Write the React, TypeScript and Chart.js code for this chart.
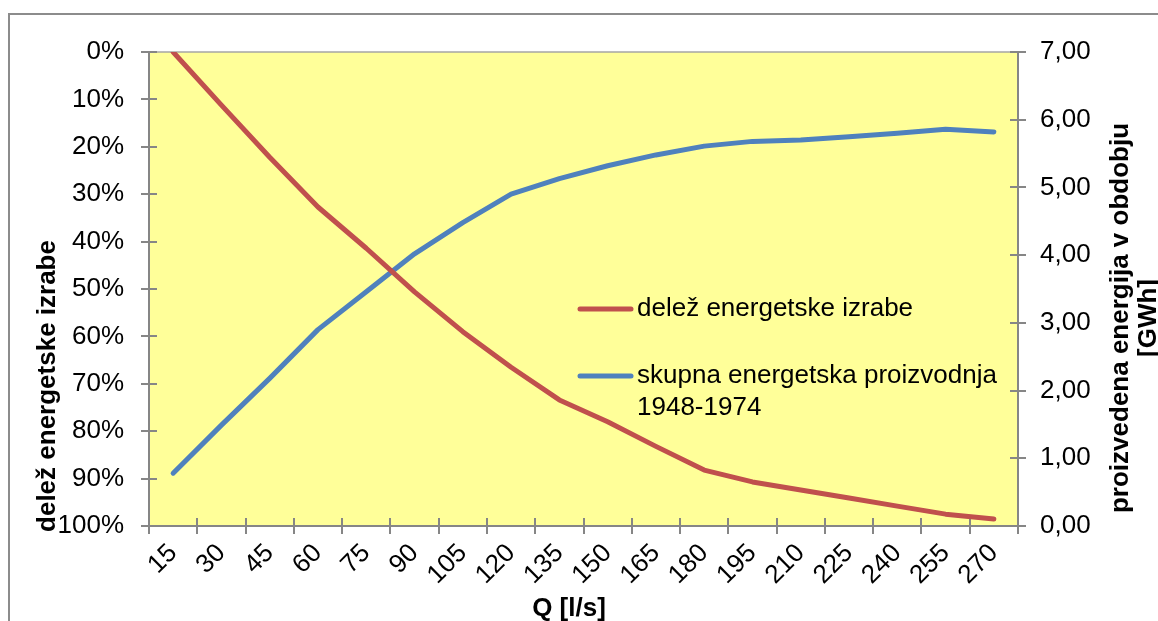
import React, { useEffect, useRef } from 'react';
import { Chart, registerables } from 'chart.js';

Chart.register(...registerables);

// ---- data ----
const categories = ['15', '30', '45', '60', '75', '90', '105', '120', '135', '150', '165', '180', '195', '210', '225', '240', '255', '270'];
const shareValues = [0, 11.2, 22.2, 32.7, 41.4, 50.6, 59.0, 66.5, 73.4, 78.0, 83.2, 88.2, 90.7, 92.4, 94.1, 95.8, 97.5, 98.5];
const energyValues = [0.78, 1.49, 2.18, 2.90, 3.46, 4.02, 4.48, 4.90, 5.13, 5.32, 5.48, 5.61, 5.68, 5.70, 5.75, 5.80, 5.86, 5.82];
const shareLabel = 'delež energetske izrabe';
const energyLabelLines = ['skupna energetska proizvodnja', '1948-1974'];
const leftTitle = 'delež energetske izrabe';
const rightTitleLines = ['proizvedena energija v obdobju', '[GWh]'];
const xTitle = 'Q [l/s]';

const FONT = '"Liberation Sans", Arial, sans-serif';
const AXIS_GREY = '#868686';
const RED = '#C0504D';
const BLUE = '#4F81BD';

const decorPlugin = {
  id: 'decor',
  beforeDraw(chart: any) {
    const { ctx, chartArea: a } = chart;
    ctx.save();
    ctx.fillStyle = '#FFFF99';
    ctx.fillRect(a.left, a.top, a.right - a.left, a.bottom - a.top);
    // outer frame (cropped)
    ctx.strokeStyle = '#8c8c8c';
    ctx.lineWidth = 2;
    ctx.beginPath();
    ctx.moveTo(9, chart.height + 5);
    ctx.lineTo(9, 14);
    ctx.lineTo(chart.width + 5, 14);
    ctx.stroke();
    // top border of plot area
    ctx.strokeStyle = '#a6a6a6';
    ctx.lineWidth = 1.5;
    ctx.beginPath();
    ctx.moveTo(a.left, a.top);
    ctx.lineTo(a.right, a.top);
    ctx.stroke();
    ctx.restore();
  },
  beforeDatasetsDraw(chart: any) {
    const { ctx, chartArea: a, scales } = chart;
    ctx.save();
    ctx.strokeStyle = AXIS_GREY;
    ctx.lineWidth = 2;
    ctx.beginPath();
    const x = scales.x;
    const n = chart.data.labels.length;
    for (let i = 0; i <= n; i++) {
      const px = Math.round(x.left + (i * x.width) / n);
      ctx.moveTo(px, a.bottom);
      ctx.lineTo(px, a.bottom - 8);
    }
    for (const t of scales.y.ticks) {
      const py = Math.round(scales.y.getPixelForValue(t.value));
      ctx.moveTo(a.left, py);
      ctx.lineTo(a.left + 8, py);
    }
    for (const t of scales.y1.ticks) {
      const py = Math.round(scales.y1.getPixelForValue(t.value));
      ctx.moveTo(a.right, py);
      ctx.lineTo(a.right - 8, py);
    }
    ctx.stroke();
    ctx.restore();
  },
  afterDatasetsDraw(chart: any) {
    const { ctx } = chart;
    ctx.save();
    const items = [
      { color: chart.data.datasets[0].borderColor, lines: [chart.data.datasets[0].label], y: 309 },
      { color: chart.data.datasets[1].borderColor, lines: energyLabelLines, y: 376 },
    ];
    ctx.font = `26px ${FONT}`;
    ctx.textBaseline = 'middle';
    ctx.textAlign = 'left';
    for (const it of items) {
      ctx.strokeStyle = it.color;
      ctx.lineWidth = 5;
      ctx.lineCap = 'round';
      ctx.beginPath();
      ctx.moveTo(580, it.y);
      ctx.lineTo(631, it.y);
      ctx.stroke();
      ctx.fillStyle = '#000';
      it.lines.forEach((l: string, i: number) => ctx.fillText(l, 637, it.y + i * 32));
    }
    ctx.restore();
  },
  afterDraw(chart: any) {
    const { ctx } = chart;
    ctx.save();
    ctx.fillStyle = '#000';
    ctx.font = `bold 26px ${FONT}`;
    ctx.textAlign = 'center';
    ctx.textBaseline = 'middle';
    // left title
    ctx.save();
    ctx.translate(48, 386);
    ctx.rotate(-Math.PI / 2);
    ctx.fillText(leftTitle, 0, 0);
    ctx.restore();
    // right title
    rightTitleLines.forEach((l, i) => {
      ctx.save();
      ctx.translate(1121 + i * 28, 318);
      ctx.rotate(-Math.PI / 2);
      ctx.fillText(l, 0, 0);
      ctx.restore();
    });
    // x title
    ctx.fillText(xTitle, 569, 609);
    ctx.restore();
  },
};

export default function App() {
  const ref = useRef<HTMLCanvasElement | null>(null);
  useEffect(() => {
    if (!ref.current) return;
    Chart.defaults.font.family = FONT;
    Chart.defaults.font.size = 26;
    Chart.defaults.color = '#000';
    const chart = new Chart(ref.current, {
      type: 'line',
      data: {
        labels: categories,
        datasets: [
          {
            label: shareLabel,
            data: shareValues,
            borderColor: RED,
            backgroundColor: RED,
            borderWidth: 5,
            pointRadius: 0,
            tension: 0,
            borderCapStyle: 'round',
            borderJoinStyle: 'round',
            yAxisID: 'y',
          },
          {
            label: energyLabelLines.join(' '),
            data: energyValues,
            borderColor: BLUE,
            backgroundColor: BLUE,
            borderWidth: 5,
            pointRadius: 0,
            tension: 0,
            borderCapStyle: 'round',
            borderJoinStyle: 'round',
            yAxisID: 'y1',
          },
        ],
      },
      options: {
        animation: false,
        responsive: true,
        maintainAspectRatio: false,
        layout: { padding: { top: 52, left: 0, right: 0, bottom: 0 } },
        plugins: { legend: { display: false }, tooltip: { enabled: false } },
        scales: {
          x: {
            type: 'category',
            offset: true,
            grid: { offset: true, drawOnChartArea: false, tickLength: 8, color: AXIS_GREY, lineWidth: 2 },
            border: { display: true, color: AXIS_GREY, width: 2 },
            ticks: { minRotation: 45, maxRotation: 45, autoSkip: false, padding: 4, font: { size: 26 } },
            afterFit: (s: any) => { s.height = 95; },
          },
          y: {
            position: 'left',
            reverse: true,
            min: 0,
            max: 100,
            grid: { drawOnChartArea: false, tickLength: 8, color: AXIS_GREY, lineWidth: 2 },
            border: { display: true, color: AXIS_GREY, width: 2 },
            ticks: { stepSize: 10, padding: 17, callback: (v: any) => `${v}%`, font: { size: 26 } },
            afterFit: (s: any) => { s.width = 149; },
          },
          y1: {
            position: 'right',
            min: 0,
            max: 7,
            grid: { drawOnChartArea: false, tickLength: 8, color: AXIS_GREY, lineWidth: 2 },
            border: { display: true, color: AXIS_GREY, width: 2 },
            ticks: { stepSize: 1, padding: 14, callback: (v: any) => Number(v).toFixed(2).replace('.', ','), font: { size: 26 } },
            afterFit: (s: any) => { s.width = 140; },
          },
        },
      } as any,
      plugins: [decorPlugin],
    });
    return () => chart.destroy();
  }, []);
  return (
    <div style={{ position: 'fixed', left: 0, top: 0, width: 1158, height: 621, background: '#fff' }}>
      <canvas ref={ref} />
    </div>
  );
}
